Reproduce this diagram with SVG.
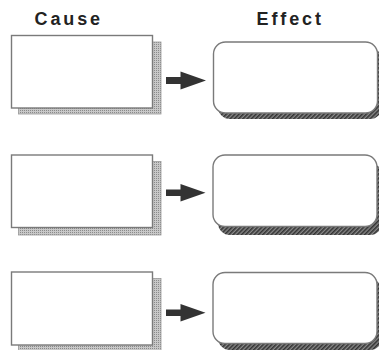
<svg xmlns="http://www.w3.org/2000/svg" width="379" height="350" viewBox="0 0 379 350">
<defs>
<pattern id="grid" width="2" height="2" patternUnits="userSpaceOnUse">
<rect width="2" height="2" fill="#c8c8c8"/>
<rect width="1" height="1" fill="#8a8a8a"/>
</pattern>
<pattern id="hatch" width="3" height="3" patternUnits="userSpaceOnUse" patternTransform="rotate(45)">
<rect width="3" height="3" fill="#8a8a8a"/>
<rect width="1.6" height="3" fill="#333"/>
</pattern>
</defs>
<style>
.title{font-family:"Liberation Sans",Arial,sans-serif;font-weight:bold;font-size:18px;letter-spacing:2.9px;fill:#222}
.cshadow{fill:url(#grid);stroke:#999;stroke-width:0.8}
.cbox{fill:#fff;stroke:#7a7a7a;stroke-width:1.4}
.eshadow{fill:url(#hatch)}
.ebox{fill:#fff;stroke:#7a7a7a;stroke-width:1.4}
.arrow{fill:#333}
</style>
<text class="title" x="34.5" y="25">Cause</text>
<text class="title" x="256.5" y="25">Effect</text>
<g id="cause1">
<rect class="cshadow" x="18.5" y="42" width="142.5" height="72"/>
<rect class="cbox" x="11.5" y="35.5" width="141" height="72.5"/>
</g>
<g id="effect1">
<rect class="eshadow" x="218" y="48" width="164" height="71" rx="12"/>
<rect class="ebox" x="213.5" y="42" width="164" height="71" rx="12"/>
</g>
<g id="cause2">
<rect class="cshadow" x="18.5" y="161.5" width="142.5" height="73.5"/>
<rect class="cbox" x="11.5" y="155" width="141" height="72.5"/>
</g>
<g id="effect2">
<rect class="eshadow" x="218" y="163" width="164" height="72" rx="12"/>
<rect class="ebox" x="213" y="155" width="164" height="71.5" rx="12"/>
</g>
<g id="cause3">
<rect class="cshadow" x="18.5" y="278.5" width="142.5" height="73"/>
<rect class="cbox" x="11.5" y="272" width="141" height="73"/>
</g>
<g id="effect3">
<rect class="eshadow" x="218" y="279" width="164" height="71" rx="12"/>
<rect class="ebox" x="213" y="272.5" width="164" height="71" rx="12"/>
</g>
<g id="connectors">
<path class="arrow" d="M166 77 H180.5 V71.5 L206 80.5 L180.5 89.5 V84 H166 Z"/>
<path class="arrow" d="M166 189.5 H180.5 V184 L205.5 192.7 L180.5 201.5 V196 H166 Z"/>
<path class="arrow" d="M166 309.5 H180.5 V304 L205.5 312.7 L180.5 321.5 V316 H166 Z"/>
</g>
</svg>
